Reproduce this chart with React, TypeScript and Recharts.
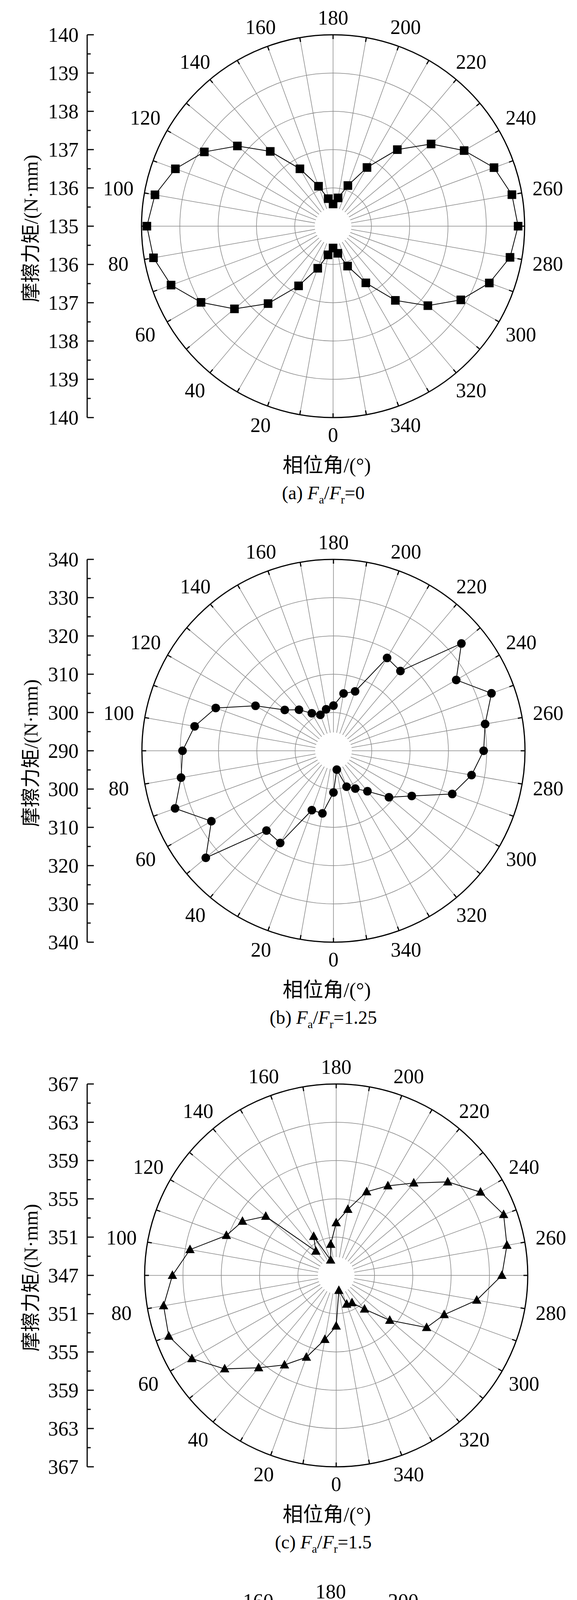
import React from 'react';
import {
  RadarChart, Radar, PolarGrid, PolarAngleAxis, PolarRadiusAxis,
  LineChart, Line, XAxis, YAxis,
} from 'recharts';

const angles = Array.from({ length: 36 }, (_, i) => i * 10);

const torqueA = [135.57, 135.76, 136.17, 136.8, 137.64, 138.36, 138.98, 139.5, 139.76, 139.86, 139.72, 139.38,
  138.88, 138.26, 137.55, 136.73, 136.11, 135.73, 135.58, 135.75, 136.13, 136.77, 137.61, 138.34,
  138.95, 139.47, 139.74, 139.83, 139.69, 139.34, 138.85, 138.23, 137.53, 136.71, 136.11, 135.72];
const torqueB = [300.9, 306.6, 306.5, 317.8, 317.2, 333.5, 326.8, 334, 330.4, 329.4, 326.8, 322.7,
  313.5, 306.6, 304, 301.3, 300, 301, 301.8, 305.2, 306.5, 318, 317.2, 333.6,
  327, 333.9, 330.2, 329.2, 326.6, 323, 313.6, 308.9, 303.8, 301.4, 300, 295];
const torqueC = [352.3, 353.8, 356.1, 357.8, 359.6, 362.2, 364.4, 365.6, 365.3, 364.1, 362.5, 359.2,
  358.3, 356.6, 350.3, 351.7, 348.7, 350.3, 352.5, 354, 356.3, 357.8, 359.6, 362.2,
  364.4, 365.6, 365.1, 364.3, 361.9, 359, 357.9, 354.3, 351.6, 350.3, 350.2, 348.6];
const torqueD = [471.6, 471.3, 471.5, 474.1, 474.6, 475.5, 476.9, 477.6, 477.9, 479.4, 476.9, 474.3,
  471.4, 469.7, 468.1, 470.1, 467.3, 466.6, 471.5, 471.2, 471.5, 474, 474.5, 475.5,
  477.1, 477.6, 478, 479.4, 476.9, 474.3, 471.5, 469.8, 468.2, 467.3, 467, 466.6];

const panels = [
  { letter: 'a', ratio: '0', values: torqueA, base: 135, step: 1, marker: 'square', cx: 844 },
  { letter: 'b', ratio: '1.25', values: torqueB, base: 290, step: 10, marker: 'circle', cx: 845 },
  { letter: 'c', ratio: '1.5', values: torqueC, base: 347, step: 4, marker: 'up', cx: 852 },
  { letter: 'd', ratio: '2', values: torqueD, base: 465, step: 3, marker: 'down', cx: 838 },
];

const FONT = "'Liberation Serif', 'Noto Sans CJK SC', serif";
const W = 1476;
const H = 1343;
const CY = 571;
const R = 490;
const AXIS_X = 215;
const axisTicks = Array.from({ length: 21 }, (_, i) => -5 + i * 0.5);

function Marker({ cx, cy, kind }: any) {
  const s = 11;
  if (kind === 'square') return <rect x={cx - s} y={cy - s} width={2 * s} height={2 * s} fill="#000" />;
  if (kind === 'circle') return <circle cx={cx} cy={cy} r={s} fill="#000" />;
  if (kind === 'up') return <path d={`M${cx},${cy - s - 2} L${cx + s + 1},${cy + s - 2} L${cx - s - 1},${cy + s - 2} Z`} fill="#000" />;
  return <path d={`M${cx},${cy + s + 2} L${cx + s + 1},${cy - s + 2} L${cx - s - 1},${cy - s + 2} Z`} fill="#000" />;
}

function Panel({ p }: any) {
  const data = angles.map((a, i) => ({ angle: a, v: p.values[i] }));
  const toXY = (r: number, deg: number) => {
    const rad = (-deg * Math.PI) / 180;
    return [p.cx + r * Math.cos(rad), CY + r * Math.sin(rad)];
  };
  const angleTick = (props: any) => {
    const { payload } = props;
    const c = payload.coordinate;
    const [x1, y1] = toXY(R, c);
    const [x2, y2] = toXY(R - 11, c);
    const off = 44 + 24 * Math.abs(Math.cos((c * Math.PI) / 180));
    const [lx, ly] = toXY(R + off, c);
    return (
      <g>
        {payload.value === 0 && <circle cx={p.cx} cy={CY} r={47} fill="#fff" />}
        <line x1={x1} y1={y1} x2={x2} y2={y2} stroke="#000" strokeWidth={3} />
        {payload.value % 20 === 0 && (
          <text x={lx} y={ly} textAnchor="middle" dominantBaseline="central" fontSize={52} fontFamily={FONT} fill="#000">
            {payload.value}
          </text>
        )}
      </g>
    );
  };
  const leftTick = (props: any) => {
    const { y, payload } = props;
    const major = Math.abs(payload.value % 1) < 1e-6;
    return (
      <g>
        <line x1={AXIS_X} y1={y} x2={AXIS_X + (major ? 17 : 9)} y2={y} stroke="#000" strokeWidth={3} />
        {major && (
          <text x={193} y={y} textAnchor="end" dominantBaseline="central" fontSize={52} fontFamily={FONT} fill="#000">
            {p.base + Math.abs(payload.value) * p.step}
          </text>
        )}
      </g>
    );
  };
  return (
    <div style={{ position: 'relative', width: W, height: H, fontFamily: FONT }}>
      <div style={{ position: 'absolute', left: 0, top: 0 }}>
        <RadarChart width={W} height={H} data={data} cx={p.cx} cy={CY} outerRadius={R}
          startAngle={-90} endAngle={-450} margin={{ top: 0, right: 0, bottom: 0, left: 0 }}>
          <PolarGrid gridType="circle" stroke="#888" strokeWidth={1.5} />
          <PolarRadiusAxis domain={[p.base, p.base + 5 * p.step]} tickCount={6} tick={false} axisLine={false} />
          <PolarAngleAxis dataKey="angle" axisLineType="circle" axisLine={{ stroke: '#000', strokeWidth: 3 }}
            tickLine={false} tick={angleTick} />
          <Radar dataKey="v" stroke="#000" strokeWidth={2} fill="none" fillOpacity={0}
            dot={(d: any) => <Marker key={d.index} cx={d.cx} cy={d.cy} kind={p.marker} />}
            isAnimationActive={false} />
        </RadarChart>
      </div>
      <div style={{ position: 'absolute', left: 0, top: 0 }}>
        <LineChart width={240} height={H} data={[{ x: 0, y: 0 }]}
          margin={{ top: CY - R, bottom: H - CY - R, left: 0, right: 0 }}>
          <XAxis dataKey="x" hide />
          <YAxis width={AXIS_X} domain={[-5, 5]} ticks={axisTicks} interval={0} tickLine={false}
            axisLine={{ stroke: '#000', strokeWidth: 3 }} tick={leftTick} />
          <Line dataKey="y" stroke="none" dot={false} isAnimationActive={false} />
        </LineChart>
      </div>
      <div style={{ position: 'absolute', left: 66, top: 577, transform: 'translate(-50%,-50%) rotate(-90deg)', fontSize: 50, whiteSpace: 'nowrap' }}>
        摩擦力矩/(N·mm)
      </div>
      <div style={{ position: 'absolute', left: 828, top: CY + 607, transform: 'translate(-50%,-50%)', fontSize: 52, whiteSpace: 'nowrap' }}>
        相位角/(°)
      </div>
      <div style={{ position: 'absolute', left: 819, top: CY + 686, transform: 'translate(-50%,-50%)', fontSize: 48, whiteSpace: 'nowrap' }}>
        ({p.letter}) <i>F</i><sub style={{ fontSize: 30 }}>a</sub>/<i>F</i><sub style={{ fontSize: 30 }}>r</sub>={p.ratio}
      </div>
    </div>
  );
}

export default function App() {
  return (
    <div style={{ width: W, background: '#fff' }}>
      {panels.map((p) => <Panel key={p.letter} p={p} />)}
    </div>
  );
}
